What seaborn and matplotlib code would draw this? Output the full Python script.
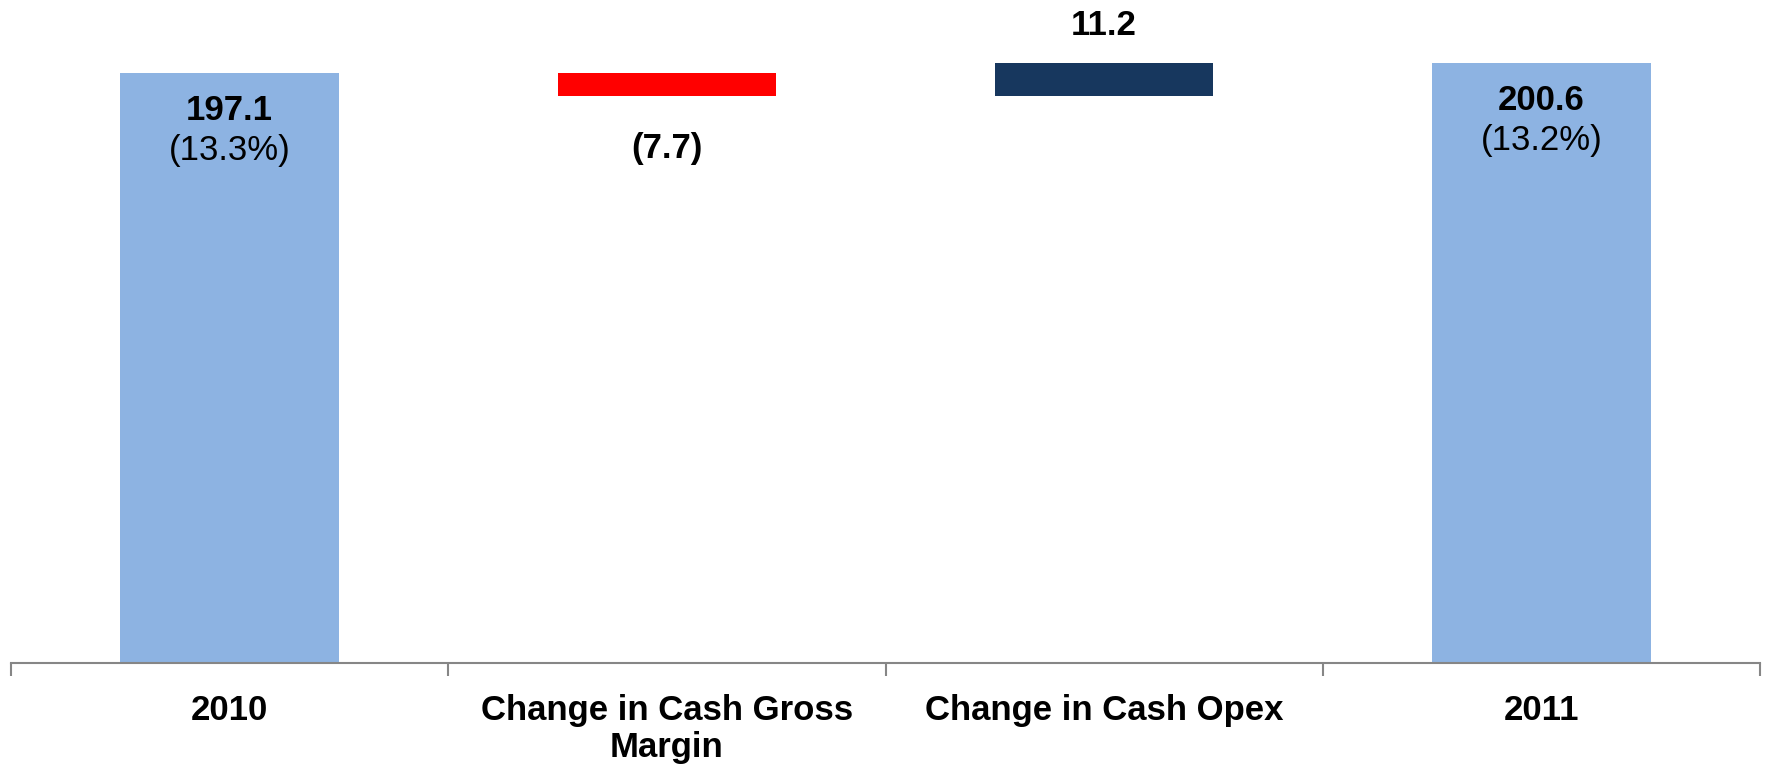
import matplotlib
matplotlib.use("Agg")
import matplotlib.pyplot as plt
import seaborn as sns
import numpy as np

categories = ["2010", "Change in Cash Gross\nMargin", "Change in Cash Opex", "2011"]
start_value = 197.1
changes = [-7.7, 11.2]
end_value = 200.6
value_labels = ["197.1", "(7.7)", "11.2", "200.6"]
margin_labels = ["(13.3%)", "", "", "(13.2%)"]
colors = ["#8DB3E2", "#FF0000", "#17375E", "#8DB3E2"]

sns.set_theme(style="white")
plt.rcParams["font.family"] = ["Liberation Sans", "DejaVu Sans"]
plt.rcParams["text.color"] = "black"

# waterfall geometry from data
bottoms = [0.0]
tops = [start_value]
level = start_value
for c in changes:
    new = level + c
    bottoms.append(min(level, new))
    tops.append(max(level, new))
    level = new
bottoms.append(0.0)
tops.append(end_value)

fig = plt.figure(figsize=(17.69, 7.65), dpi=100)
ax = fig.add_axes([11 / 1769, 102 / 765, (1760 - 11) / 1769, 663 / 765])

sns.barplot(x=categories, y=tops, hue=categories, palette=colors, width=0.5,
            legend=False, ax=ax, saturation=1, linewidth=0)

# turn bars into floating waterfall segments
for p in ax.patches:
    xc = p.get_x() + p.get_width() / 2
    i = int(round(xc))
    p.set_y(bottoms[i])
    p.set_height(tops[i] - bottoms[i])

ax.set_xlim(-0.5, 3.5)
ax.set_ylim(0, 221.5)

for s in ["top", "right", "left"]:
    ax.spines[s].set_visible(False)
ax.spines["bottom"].set_color("#868686")
ax.spines["bottom"].set_linewidth(1.5)
ax.set_yticks([])
ax.set_xticks(range(len(categories)))
ax.set_xticklabels(categories, fontsize=25, fontweight="bold", linespacing=1.17, color="black")
ax.tick_params(axis="x", which="major", length=0, pad=22, labelcolor="black")
ax.set_xticks(np.arange(-0.5, len(categories)), minor=True)
ax.tick_params(axis="x", which="minor", length=9, width=1.5, color="#868686", bottom=True)
ax.set_xlabel("")
ax.set_ylabel("")

# labels
for i in range(len(categories)):
    if i in (0, 3):
        ax.annotate(value_labels[i], (i, tops[i]), xytext=(0, -27), textcoords="offset points",
                    ha="center", va="center", fontsize=25, fontweight="bold", color="black")
        ax.annotate(margin_labels[i], (i, tops[i]), xytext=(0, -56), textcoords="offset points",
                    ha="center", va="center", fontsize=25, color="black")
    elif changes[i - 1] < 0:
        ax.annotate(value_labels[i], (i, bottoms[i]), xytext=(0, -38), textcoords="offset points",
                    ha="center", va="center", fontsize=25, fontweight="bold", color="black")
    else:
        ax.annotate(value_labels[i], (i, tops[i]), xytext=(0, 27), textcoords="offset points",
                    ha="center", va="center", fontsize=25, fontweight="bold", color="black")

fig.savefig("out.png", dpi=100)
